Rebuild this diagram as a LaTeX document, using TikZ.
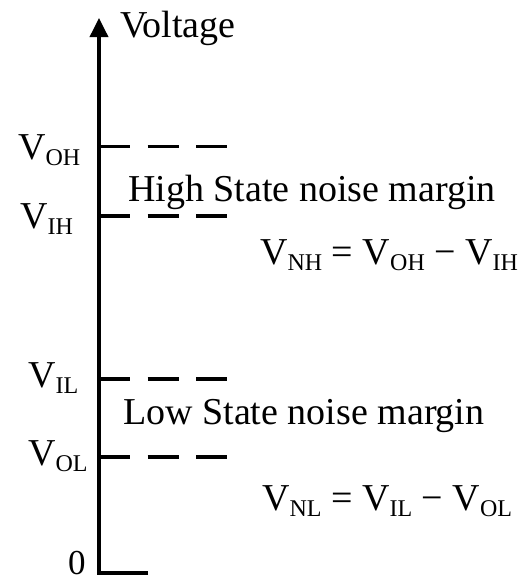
\documentclass[tikz,border=0pt]{standalone}
\usepackage{fontspec}
\setmainfont{Liberation Serif}
\usetikzlibrary{arrows.meta,positioning}

% V with a lowered, smaller index
\newcommand{\Vsub}[1]{V\raisebox{-0.18em}{\fontsize{24}{28}\selectfont #1}}

\begin{document}
\begin{tikzpicture}[x=1pt, y=-1pt,
  lbl/.style={anchor=base west, inner sep=0pt, font=\fontsize{38}{44}\selectfont},
  axisline/.style={line width=3.6pt, line join=miter, -{Triangle[width=18pt,length=19pt]}},
  level/.style={line width=3.6pt, dash pattern=on 31pt off 17.5pt}
]
\useasboundingbox (0,0) rectangle (521,581);

\coordinate (o) at (99,573);
\coordinate (top) at (99,18);
\coordinate (xend) at (148,573);

\draw[axisline] (xend) -- (o) -- (top);

% logic levels
\coordinate (oh) at (99,146.5);  \coordinate (ohr) at (228,146.5);
\coordinate (ih) at (99,216);    \coordinate (ihr) at (228,216);
\coordinate (il) at (99,379);    \coordinate (ilr) at (228,379);
\coordinate (ol) at (99,457);    \coordinate (olr) at (228,457);
\draw[level] (oh) -- (ohr);
\draw[level] (ih) -- (ihr);
\draw[level] (il) -- (ilr);
\draw[level] (ol) -- (olr);

\node[lbl] (voltage) at (120,37) {Voltage};
\node[lbl] (voh) at (18,159) {\Vsub{OH}};
\node[lbl] (vih) at (20,228) {\Vsub{IH}};
\node[lbl] (vil) at (28,387) {\Vsub{IL}};
\node[lbl] (vol) at (28,465) {\Vsub{OL}};
\node[lbl, font=\fontsize{35}{40}\selectfont] (zero) at (68,574) {0};

\node[lbl] (high) at (128,201) {High State noise margin};
\node[lbl] (vnh) at (260,264) {\Vsub{NH} = \Vsub{OH} − \Vsub{IH}};
\node[lbl] (low) at (123,424) {Low State noise margin};
\node[lbl] (vnl) at (262,510) {\Vsub{NL} = \Vsub{IL} − \Vsub{OL}};

\end{tikzpicture}
\end{document}
